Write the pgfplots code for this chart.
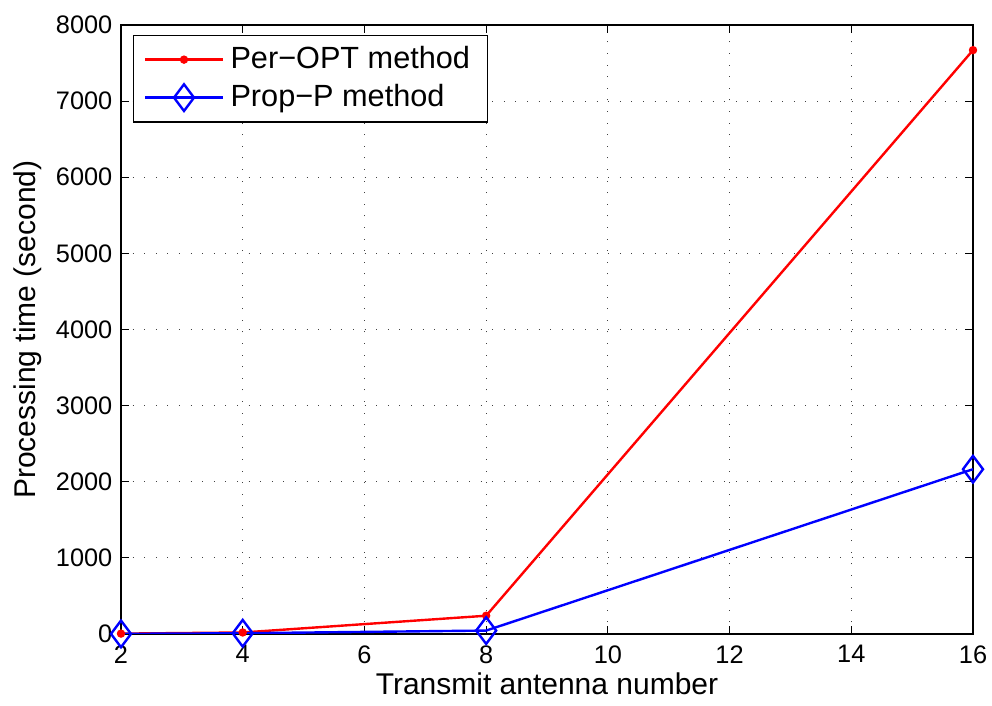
\documentclass[border=0pt]{standalone}
\usepackage{fontspec}
\setmainfont{Liberation Sans}
\usepackage{pgfplots}
\pgfplotsset{compat=1.18}
\begin{document}
\fontsize{19}{22}\selectfont
\begin{tikzpicture}
\begin{axis}[
  at={(0,0)}, anchor=south west,
  scale only axis,
  width=639pt, height=456.75pt,
  xmin=2, xmax=16, ymin=0, ymax=8000,
  xtick={2,4,...,16},
  ytick={0,1000,...,8000},
  tick align=inside,
  major tick length=6pt,
  tick style={black, line width=0.6pt},
  axis line style={black, line width=0.8pt},
  grid=major,
  grid style={black!75, line width=0.7pt, dash pattern=on 0.7pt off 8pt},
  /pgf/number format/assume math mode=true,
  /pgf/number format/set thousands separator={},
  scaled y ticks=false,
  tick label style={font=\fontsize{19}{22}\selectfont},
  xticklabel style={yshift=-2pt},
  label style={font=\fontsize{22.5}{26}\selectfont},
  xlabel={Transmit antenna number},
  ylabel={Processing time (second)},
  xlabel style={yshift=6pt},
  ylabel style={yshift=-2pt},
  legend style={font=\fontsize{23}{27}\selectfont, draw=black, line width=0.8pt, at={(0.014,0.984)}, anchor=north west, inner xsep=8pt, inner ysep=6.5pt, row sep=5pt,
    nodes={inner xsep=5pt}},
  legend cell align=left,
  legend image code/.code={\draw[#1] (0pt,0pt) -- (58pt,0pt); \path[#1] plot coordinates {(29pt,0pt)};},
]
\addplot[red, line width=1.8pt, mark=*, mark size=2.2pt] coordinates {
 (2,5) (4,20) (8,240) (16,7670)
};
\addlegendentry{Per\textminus OPT method}
\addplot[blue, line width=1.8pt, mark=diamond, mark size=10pt, mark options={line width=1.8pt}] coordinates {
 (2,2) (4,10) (8,45) (16,2165)
};
\addlegendentry{Prop\textminus P method}
\end{axis}
\pgfresetboundingbox
\path[use as bounding box] (-90.75pt,-54pt) rectangle (653.25pt,475.5pt);
\end{tikzpicture}
\end{document}
